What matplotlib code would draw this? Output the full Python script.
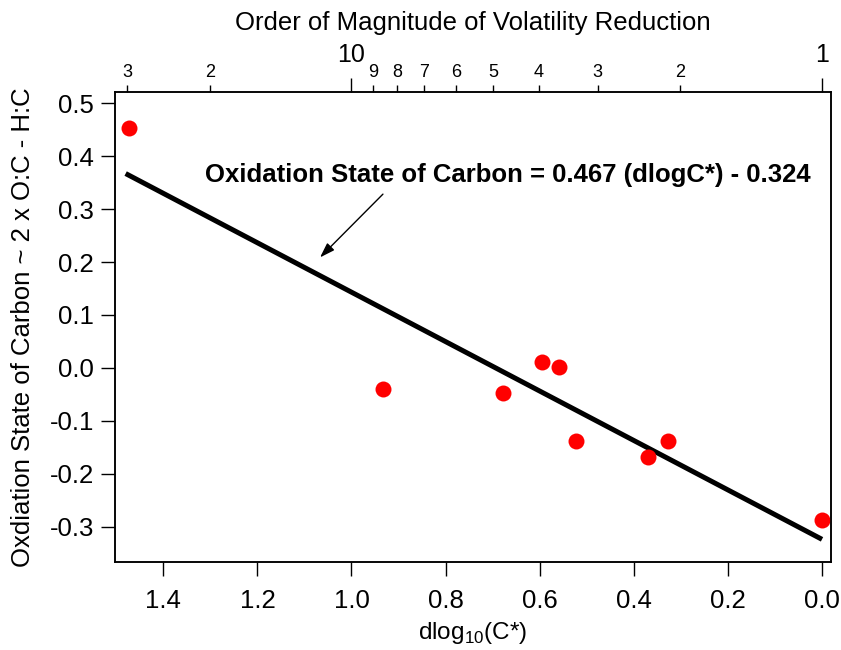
import numpy as np
import matplotlib
matplotlib.use("Agg")
import matplotlib.pyplot as plt

plt.rcParams['font.family'] = ['Liberation Sans', 'DejaVu Sans']
plt.rcParams['mathtext.fontset'] = 'custom'
plt.rcParams['mathtext.rm'] = 'Liberation Sans'

# measured points: change in log10(C*) vs. oxidation state of carbon
dlogC = [1.472, 0.932, 0.677, 0.595, 0.559, 0.523, 0.370, 0.327, 0.001]
osc = [0.453, -0.039, -0.048, 0.011, 0.002, -0.138, -0.168, -0.138, -0.287]

# linear fit
slope = 0.467
intercept = -0.324
fit_range = [1.48, 0.0]

# top axis: factor of volatility reduction (10**dlogC)
top_major = [1, 10]
top_minor = [2, 3, 4, 5, 6, 7, 8, 9, 20, 30]

fig = plt.figure(figsize=(8.41, 6.5), dpi=100)
ax = fig.add_axes([0.1367, 0.1354, 0.8514, 0.7231])

xf = np.array(fit_range)
ax.plot(xf, slope * xf + intercept, color='black', lw=3.6, solid_capstyle='butt', zorder=2)
ax.plot(dlogC, osc, 'o', color='#ff0000', ms=11.5, mec='none', zorder=3)

ax.set_xlim(1.5027, -0.0191)
ax.set_ylim(-0.3668, 0.5213)
ax.set_xticks([1.4, 1.2, 1.0, 0.8, 0.6, 0.4, 0.2, 0.0])
ax.set_xticklabels(['1.4', '1.2', '1.0', '0.8', '0.6', '0.4', '0.2', '0.0'])
ax.set_yticks(np.round(np.arange(-0.3, 0.51, 0.1), 1))
ax.set_yticklabels(['-0.3', '-0.2', '-0.1', '0.0', '0.1', '0.2', '0.3', '0.4', '0.5'])
ax.tick_params(axis='both', direction='out', length=10, width=1.0, labelsize=18.5, pad=5)
ax.tick_params(axis='x', pad=9.5)
for s in ax.spines.values():
    s.set_linewidth(1.1)

ax.set_xlabel('dlog$_\\mathregular{10}$(C*)', fontsize=17.5, labelpad=5)
ax.set_ylabel('Oxdiation State of Carbon ~ 2 x O:C - H:C', fontsize=18.5, labelpad=10.5)

# top axis in orders of magnitude
ax2 = ax.twiny()
ax2.set_xlim(ax.get_xlim())
ax2.set_xticks(np.log10(top_major))
ax2.set_xticklabels([str(v) for v in top_major])
ax2.set_xticks(np.log10(top_minor), minor=True)
ax2.set_xticklabels([str(v)[0] for v in top_minor], minor=True)
ax2.tick_params(axis='x', which='major', direction='out', length=10, width=1.0, labelsize=18, pad=8)
ax2.tick_params(axis='x', which='minor', direction='out', length=5, width=1.0, labelsize=13, pad=3)
ax2.set_xlabel('Order of Magnitude of Volatility Reduction', fontsize=18.5, labelpad=9)
for s in ax2.spines.values():
    s.set_linewidth(1.1)

ax.text(1.311, 0.364, 'Oxidation State of Carbon = 0.467 (dlogC*) - 0.324',
        fontsize=18.5, fontweight='bold', ha='left', va='center')
ax.annotate('', xy=(1.071, 0.205), xytext=(0.929, 0.332),
            arrowprops=dict(arrowstyle='-|>,head_length=0.9,head_width=0.3', color='black', lw=1.0))

fig.savefig('out.png', dpi=100)
